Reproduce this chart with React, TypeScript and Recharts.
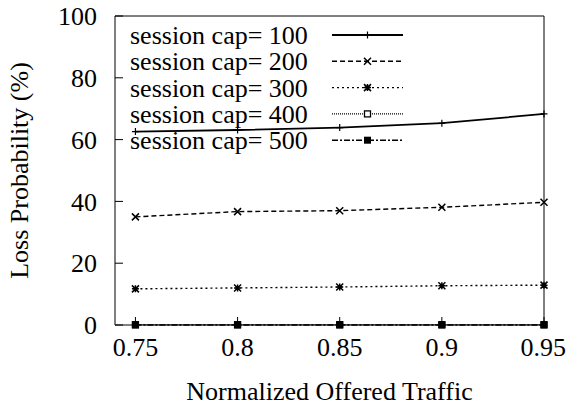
import { LineChart, Line, XAxis, YAxis, Legend } from 'recharts';

// offered traffic (normalized) and loss probability (%) per session cap
const traffic = [0.75, 0.8, 0.85, 0.9, 0.95];
const cap100 = [62.6, 63.1, 63.9, 65.3, 68.3];
const cap200 = [35.0, 36.7, 37.0, 38.1, 39.7];
const cap300 = [11.7, 12.0, 12.3, 12.7, 12.9];
const cap400 = [0.1, 0.1, 0.1, 0.1, 0.1];
const cap500 = [0, 0, 0, 0, 0];

const xTicks = [0.75, 0.8, 0.85, 0.9, 0.95];
const yTicks = [0, 20, 40, 60, 80, 100];

const FONT = 'Liberation Serif, DejaVu Serif, serif';

type Marker = 'plus' | 'cross' | 'star' | 'box' | 'filledBox';

interface SeriesDef {
  key: string;
  label: string;
  dash?: string;
  width: number;
  marker: Marker;
}

const series: SeriesDef[] = [
  { key: 'c100', label: 'session cap= 100', width: 1.8, marker: 'plus' },
  { key: 'c200', label: 'session cap= 200', dash: '5 3', width: 1.4, marker: 'cross' },
  { key: 'c300', label: 'session cap= 300', dash: '2 3', width: 1.4, marker: 'star' },
  { key: 'c400', label: 'session cap= 400', dash: '1 1', width: 1.2, marker: 'box' },
  { key: 'c500', label: 'session cap= 500', dash: '6 2 2 2', width: 1.4, marker: 'filledBox' },
];

const data = traffic.map((t, i) => ({
  t,
  c100: cap100[i],
  c200: cap200[i],
  c300: cap300[i],
  c400: cap400[i],
  c500: cap500[i],
}));

// gnuplot-like point types
function markerShape(kind: Marker, cx: number, cy: number, key?: string | number) {
  const s = 3.5;
  switch (kind) {
    case 'plus':
      return (
        <path key={key} d={`M${cx - s},${cy}H${cx + s}M${cx},${cy - s}V${cy + s}`} stroke="#000" strokeWidth={1.2} fill="none" />
      );
    case 'cross':
      return (
        <path key={key} d={`M${cx - s},${cy - s}L${cx + s},${cy + s}M${cx - s},${cy + s}L${cx + s},${cy - s}`} stroke="#000" strokeWidth={1.5} fill="none" />
      );
    case 'star':
      return (
        <path
          key={key}
          d={`M${cx - s},${cy - s}L${cx + s},${cy + s}M${cx - s},${cy + s}L${cx + s},${cy - s}M${cx - s},${cy}H${cx + s}M${cx},${cy - s}V${cy + s}`}
          stroke="#000"
          strokeWidth={1.5}
          fill="none"
        />
      );
    case 'box':
      return <rect key={key} x={cx - 3} y={cy - 3} width={6} height={6} stroke="#000" strokeWidth={1.3} fill="#fff" />;
    default:
      return <rect key={key} x={cx - 3.5} y={cy - 3.5} width={7} height={7} fill="#000" />;
  }
}

function KeyBox() {
  const rowH = 26.3;
  return (
    <svg width={290} height={140} style={{ display: 'block', fontFamily: FONT }}>
      {series.map((s, i) => {
        const cy = 17 + i * rowH;
        return (
          <g key={s.key}>
            <text x={0} y={cy} dy="0.35em" fontSize={26} style={{ fontFamily: FONT }} fill="#000">
              {s.label}
            </text>
            <line x1={202} x2={273} y1={cy} y2={cy} stroke="#000" strokeWidth={s.width} strokeDasharray={s.dash} />
            {markerShape(s.marker, 237.5, cy)}
          </g>
        );
      })}
    </svg>
  );
}

const tickFont = { fill: '#000', fontSize: 26, fontFamily: FONT };

export default function App() {
  return (
    <div style={{ position: 'absolute', left: 0, top: 0, width: 566, height: 410, background: '#fff', fontFamily: FONT }}>
      <LineChart width={566} height={410} data={data} margin={{ top: 0, right: 0, bottom: 0, left: 0 }}>
        <XAxis
          xAxisId="bottom"
          dataKey="t"
          type="number"
          domain={[0.74, 0.95]}
          ticks={xTicks}
          height={85}
          tickSize={-8}
          tickMargin={21}
          stroke="#000"
          tick={tickFont}
          label={{ value: 'Normalized Offered Traffic', position: 'insideBottom', offset: 10, ...tickFont }}
        />
        <XAxis
          xAxisId="top"
          orientation="top"
          dataKey="t"
          type="number"
          domain={[0.74, 0.95]}
          ticks={xTicks}
          height={16}
          tickSize={-8}
          tick={false}
          stroke="#000"
        />
        <YAxis
          yAxisId="left"
          domain={[0, 100]}
          ticks={yTicks}
          width={115}
          tickSize={-8}
          tickMargin={26}
          stroke="#000"
          tick={tickFont}
          label={{
            content: (props: any) => {
              const vb = props.viewBox || { x: 0, y: 0, height: 0 };
              const x = vb.x + 28;
              const y = vb.y + vb.height / 2;
              return (
                <text x={x} y={y} transform={`rotate(-90 ${x} ${y})`} textAnchor="middle" fontSize={26} style={{ fontFamily: FONT }} fill="#000">
                  Loss Probability (%)
                </text>
              );
            },
          }}
        />
        <YAxis
          yAxisId="right"
          orientation="right"
          domain={[0, 100]}
          ticks={yTicks}
          width={22}
          tickSize={-8}
          tick={false}
          stroke="#000"
        />
        <Legend
          layout="horizontal"
          verticalAlign="middle"
          align="center"
          wrapperStyle={{ left: 130, top: 18, width: 290, height: 140 }}
          content={() => <KeyBox />}
        />
        {series.map((s) => (
          <Line
            key={s.key}
            xAxisId="bottom"
            yAxisId="left"
            dataKey={s.key}
            name={s.label}
            type="linear"
            stroke="#000"
            strokeWidth={s.width}
            strokeDasharray={s.dash}
            isAnimationActive={false}
            dot={(p: any) => markerShape(s.marker, p.cx, p.cy, `${s.key}-${p.index}`)}
            activeDot={false}
          />
        ))}
      </LineChart>
    </div>
  );
}
